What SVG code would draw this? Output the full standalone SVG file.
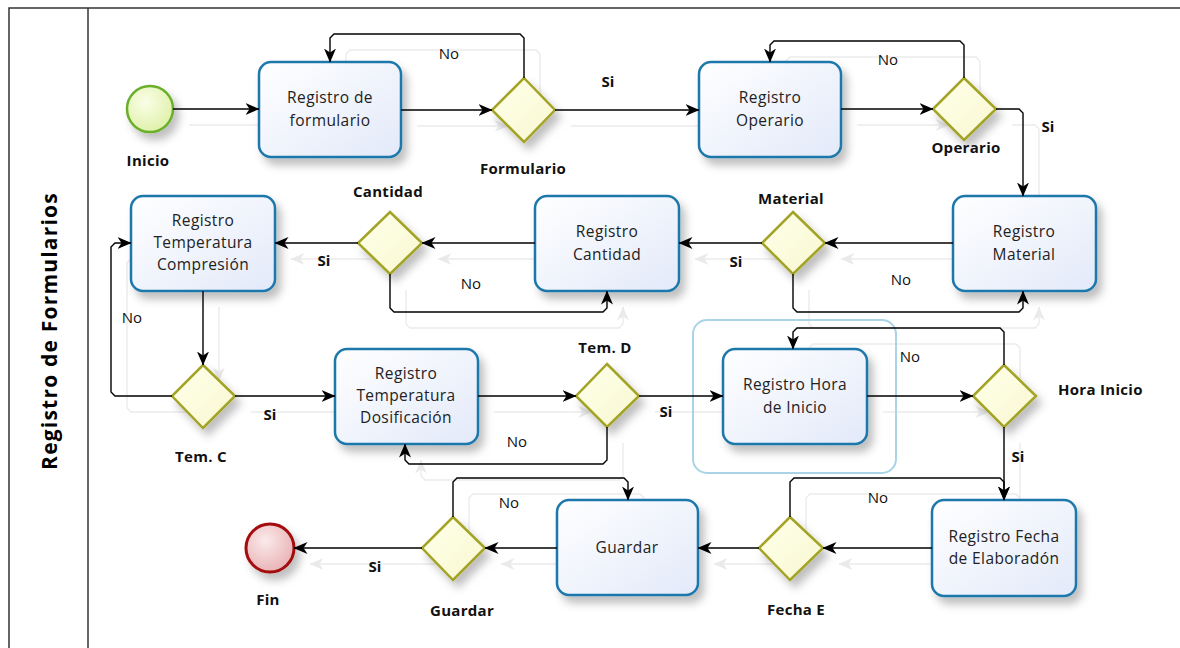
<svg xmlns="http://www.w3.org/2000/svg" xmlns:xlink="http://www.w3.org/1999/xlink" width="1180" height="648" viewBox="0 0 1180 648">
  <defs>
    <style>
      .frame { stroke: #333; stroke-width: 1.5; fill: none; }
      .title { font-family: "Open Sans", "Liberation Sans", sans-serif; font-size: 21px; font-weight: bold; letter-spacing: 1.2px; fill: #000; }
      .task { fill: url(#gTask); stroke: #1f78ab; stroke-width: 2.5; filter: url(#shadow); }
      .tt { font-family: "Open Sans", "Liberation Sans", sans-serif; font-size: 15.5px; letter-spacing: 0.4px; fill: #222; text-anchor: middle; }
      .gw { fill: url(#gGate); stroke: #a3a325; stroke-width: 2.5; filter: url(#shadow); }
      .lbl { font-family: "Open Sans", "Liberation Sans", sans-serif; font-size: 15px; font-weight: bold; letter-spacing: 0.3px; fill: #111; text-anchor: middle; }
      .lbl.start { text-anchor: start; }
      .wire { fill: none; stroke: #000; stroke-width: 1.4; marker-end: url(#arrow); }
      .no { font-family: "Open Sans", "Liberation Sans", sans-serif; font-size: 15px; fill: #111; text-anchor: middle; }
      .si { font-family: "Open Sans", "Liberation Sans", sans-serif; font-size: 15px; font-weight: bold; fill: #111; text-anchor: middle; }
    </style>
    <linearGradient id="gTask" x1="0" y1="0" x2="1" y2="1">
      <stop offset="0" stop-color="#ffffff"/>
      <stop offset="1" stop-color="#e2e9f9"/>
    </linearGradient>
    <linearGradient id="gGate" x1="0" y1="0" x2="1" y2="1">
      <stop offset="0" stop-color="#ffffea"/>
      <stop offset="1" stop-color="#f8f8d2"/>
    </linearGradient>
    <radialGradient id="gStart" cx="0.4" cy="0.35" r="0.7">
      <stop offset="0" stop-color="#fafee8"/>
      <stop offset="1" stop-color="#def0a6"/>
    </radialGradient>
    <radialGradient id="gEnd" cx="0.4" cy="0.35" r="0.7">
      <stop offset="0" stop-color="#fbeaea"/>
      <stop offset="1" stop-color="#e8b0b4"/>
    </radialGradient>
    <filter id="shadow" x="-20%" y="-20%" width="160%" height="160%">
      <feDropShadow dx="5" dy="7" stdDeviation="4" flood-color="#000" flood-opacity="0.25"/>
    </filter>
    <marker id="arrow" viewBox="0 0 14 12" refX="13.5" refY="6" markerWidth="14" markerHeight="12" markerUnits="userSpaceOnUse" orient="auto">
      <path d="M0,0 L14,6 L0,12 L4,6 Z" fill="#000"/>
    </marker>
  </defs>

  <rect width="1180" height="648" fill="#fff"/>

  <!-- pool / lane frame -->
  <g id="pool">
    <path class="frame" d="M9,648 V8 H1180"/>
    <line class="frame" x1="88" y1="8" x2="88" y2="648"/>
    <text class="title" transform="translate(57,331) rotate(-90)" text-anchor="middle">Registro de Formularios</text>
  </g>

  <!-- faint offset trace of the sequence flows -->
  <use xlink:href="#wires" href="#wires" transform="translate(16,16)" opacity="0.08"/>

  <!-- group box around the start-time step -->
  <rect id="group-hora" x="693" y="320" width="203" height="153" rx="14" fill="none" stroke="#a9d3e6" stroke-width="2"/>

  <!-- events -->
  <g id="inicio">
    <circle cx="150" cy="109" r="23" fill="url(#gStart)" stroke="#6aaf2a" stroke-width="2.5" filter="url(#shadow)"/>
    <text class="lbl" x="148" y="166">Inicio</text>
  </g>
  <g id="fin">
    <circle cx="270" cy="548" r="24" fill="url(#gEnd)" stroke="#a40f0f" stroke-width="3" filter="url(#shadow)"/>
    <text class="lbl" x="268" y="605">Fin</text>
  </g>

  <!-- tasks -->
  <g id="t-formulario">
    <rect class="task" x="259" y="62" width="142" height="95" rx="12"/>
    <text class="tt" x="330" y="103">Registro de</text>
    <text class="tt" x="330" y="126">formulario</text>
  </g>
  <g id="t-operario">
    <rect class="task" x="699" y="62" width="142" height="95" rx="12"/>
    <text class="tt" x="770" y="103">Registro</text>
    <text class="tt" x="770" y="126">Operario</text>
  </g>
  <g id="t-material">
    <rect class="task" x="953" y="196" width="143" height="95" rx="12"/>
    <text class="tt" x="1024" y="237">Registro</text>
    <text class="tt" x="1024" y="260">Material</text>
  </g>
  <g id="t-cantidad">
    <rect class="task" x="535" y="196" width="144" height="95" rx="12"/>
    <text class="tt" x="607" y="237">Registro</text>
    <text class="tt" x="607" y="260">Cantidad</text>
  </g>
  <g id="t-compresion">
    <rect class="task" x="131" y="196" width="144" height="95" rx="12"/>
    <text class="tt" x="203" y="226">Registro</text>
    <text class="tt" x="203" y="248">Temperatura</text>
    <text class="tt" x="203" y="270">Compresión</text>
  </g>
  <g id="t-dosificacion">
    <rect class="task" x="335" y="349" width="143" height="95" rx="12"/>
    <text class="tt" x="406" y="379">Registro</text>
    <text class="tt" x="406" y="401">Temperatura</text>
    <text class="tt" x="406" y="423">Dosificación</text>
  </g>
  <g id="t-hora">
    <rect class="task" x="723" y="349" width="144" height="95" rx="12"/>
    <text class="tt" x="795" y="390">Registro Hora</text>
    <text class="tt" x="795" y="413">de Inicio</text>
  </g>
  <g id="t-fecha">
    <rect class="task" x="932" y="500" width="144" height="96" rx="12"/>
    <text class="tt" x="1004" y="542">Registro Fecha</text>
    <text class="tt" x="1004" y="564">de Elaboradón</text>
  </g>
  <g id="t-guardar">
    <rect class="task" x="557" y="500" width="141" height="95" rx="12"/>
    <text class="tt" x="627" y="553">Guardar</text>
  </g>

  <!-- gateways -->
  <g id="gw-formulario">
    <path class="gw" d="M524,78 L555,110 L524,142 L492,110 Z"/>
    <text class="lbl" x="523" y="174">Formulario</text>
  </g>
  <g id="gw-operario">
    <path class="gw" d="M964,78 L996,109 L964,140 L933,109 Z"/>
    <text class="lbl" x="966" y="153">Operario</text>
  </g>
  <g id="gw-material">
    <path class="gw" d="M793,212 L825,243 L793,274 L762,243 Z"/>
    <text class="lbl" x="791" y="204">Material</text>
  </g>
  <g id="gw-cantidad">
    <path class="gw" d="M390,212 L422,243 L390,274 L358,243 Z"/>
    <text class="lbl" x="388" y="197">Cantidad</text>
  </g>
  <g id="gw-temc">
    <path class="gw" d="M203,365 L235,396 L203,428 L172,396 Z"/>
    <text class="lbl" x="201" y="462">Tem. C</text>
  </g>
  <g id="gw-temd">
    <path class="gw" d="M607,364 L639,396 L607,427 L576,396 Z"/>
    <text class="lbl" x="605" y="353">Tem. D</text>
  </g>
  <g id="gw-hora">
    <path class="gw" d="M1004,365 L1036,396 L1004,427 L973,396 Z"/>
    <text class="lbl start" x="1058" y="395">Hora Inicio</text>
  </g>
  <g id="gw-fecha">
    <path class="gw" d="M790,517 L823,548 L790,580 L759,548 Z"/>
    <text class="lbl" x="796" y="615">Fecha E</text>
  </g>
  <g id="gw-guardar">
    <path class="gw" d="M453,517 L485,548 L453,580 L422,548 Z"/>
    <text class="lbl" x="462" y="616">Guardar</text>
  </g>

  <!-- sequence flows -->
  <g id="connectors">
    <g id="wires">
      <path class="wire" d="M173,109 H259"/>
      <path class="wire" d="M401,110 H492"/>
      <path class="wire" d="M524,78 V38 L520,34 H334 L330,38 V62"/>
      <path class="wire" d="M555,110 H699"/>
      <path class="wire" d="M841,109 H933"/>
      <path class="wire" d="M964,78 V45 L960,41 H774 L770,45 V62"/>
      <path class="wire" d="M996,109 H1019 L1023,113 V196"/>
      <path class="wire" d="M953,243 H825"/>
      <path class="wire" d="M762,243 H679"/>
      <path class="wire" d="M793,274 V308 L797,312 H1019 L1023,308 V291"/>
      <path class="wire" d="M535,243 H422"/>
      <path class="wire" d="M358,243 H275"/>
      <path class="wire" d="M390,274 V308 L394,312 H603 L607,308 V291"/>
      <path class="wire" d="M203,291 V365"/>
      <path class="wire" d="M172,396 H115 L111,392 V247 L115,243 H131"/>
      <path class="wire" d="M235,396 H335"/>
      <path class="wire" d="M478,396 H576"/>
      <path class="wire" d="M607,427 V460 L603,464 H409 L405,460 V444"/>
      <path class="wire" d="M639,396 H723"/>
      <path class="wire" d="M867,396 H973"/>
      <path class="wire" d="M1004,365 V332 L1000,328 H797 L793,332 V349"/>
      <path class="wire" d="M1004,427 V500"/>
      <path class="wire" d="M932,548 H823"/>
      <path class="wire" d="M790,517 V482 L794,478 H1000 L1004,482 V500"/>
      <path class="wire" d="M759,548 H698"/>
      <path class="wire" d="M557,548 H485"/>
      <path class="wire" d="M453,517 V482 L457,478 H624 L628,482 V500"/>
      <path class="wire" d="M422,548 H294"/>
    </g>
    <!-- flow conditions -->
    <g id="flow-labels">
      <text class="no" x="449" y="59">No</text>
      <text class="si" x="608" y="87">Si</text>
      <text class="no" x="888" y="65">No</text>
      <text class="si" x="1048" y="132">Si</text>
      <text class="si" x="736" y="267">Si</text>
      <text class="no" x="901" y="285">No</text>
      <text class="si" x="324" y="266">Si</text>
      <text class="no" x="471" y="289">No</text>
      <text class="no" x="132" y="323">No</text>
      <text class="si" x="270" y="420">Si</text>
      <text class="no" x="517" y="447">No</text>
      <text class="si" x="666" y="417">Si</text>
      <text class="no" x="910" y="362">No</text>
      <text class="si" x="1018" y="462">Si</text>
      <text class="no" x="878" y="503">No</text>
      <text class="no" x="509" y="508">No</text>
      <text class="si" x="375" y="572">Si</text>
    </g>
  </g>
</svg>
